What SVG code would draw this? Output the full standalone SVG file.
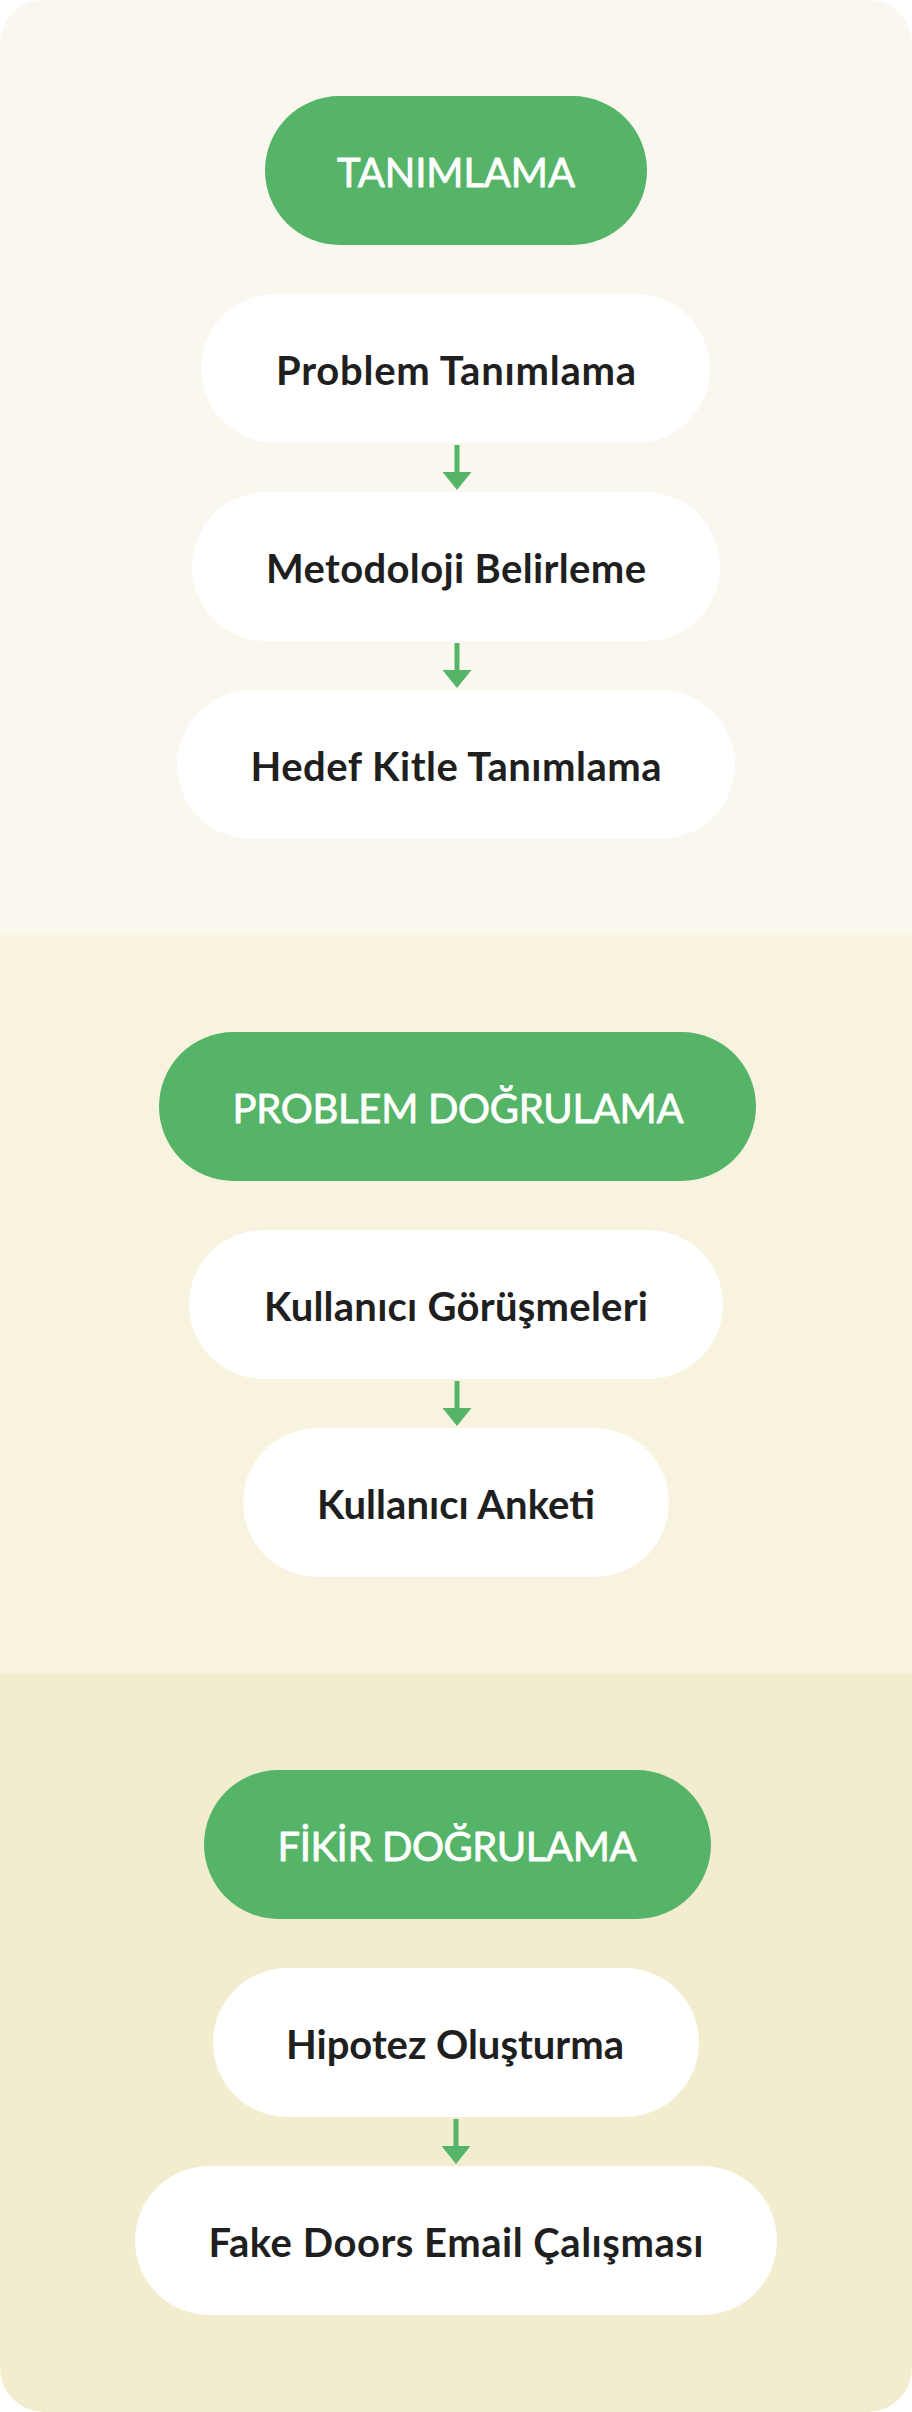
<svg xmlns="http://www.w3.org/2000/svg" width="912" height="2412" viewBox="0 0 912 2412">
  <defs>
    <style>
      .hdr { fill: #55B468; }
      .step { fill: #FFFFFF; }
      .hdr-t { font-family: Lato, "Noto Sans", "Liberation Sans", sans-serif; font-size: 40px; font-weight: 400; fill: #FFFFFF; stroke: #FFFFFF; stroke-width: 0.8px; stroke-linejoin: round; text-anchor: middle; }
      .step-t { font-family: Lato, "Noto Sans", "Liberation Sans", sans-serif; font-size: 40px; font-weight: 700; fill: #1F1F1F; text-anchor: middle; }
      .conn { stroke: #55B468; stroke-width: 5; fill: none; }
      .head { fill: #55B468; }
    </style>
    <clipPath id="card">
      <rect x="0" y="0" width="912" height="2412" rx="44" ry="44"/>
    </clipPath>
  </defs>
  <rect x="0" y="0" width="912" height="2412" fill="#FFFFFF"/>
  <g id="panels" clip-path="url(#card)">
    <rect x="0" y="0" width="912" height="935" fill="#FAF7EF"/>
    <rect x="0" y="935" width="912" height="739" fill="#F8F3DE"/>
    <rect x="0" y="1674" width="912" height="738" fill="#F3EDCF"/>
  </g>

  <g id="connectors">
    <line class="conn" x1="457" y1="445" x2="457" y2="474"/>
    <polygon class="head" points="442.5,472 471.5,472 457,490"/>
    <line class="conn" x1="457" y1="643" x2="457" y2="672"/>
    <polygon class="head" points="442.5,670 471.5,670 457,688"/>
    <line class="conn" x1="457" y1="1381" x2="457" y2="1410"/>
    <polygon class="head" points="442.5,1408 471.5,1408 457,1426"/>
    <line class="conn" x1="456" y1="2119" x2="456" y2="2148"/>
    <polygon class="head" points="441.5,2146 470.5,2146 456,2164"/>
  </g>

  <g id="n-tanimlama">
    <rect class="hdr" x="265" y="96" width="382" height="149" rx="74.5"/>
    <text class="hdr-t" x="456" y="187" textLength="238" lengthAdjust="spacing">TANIMLAMA</text>
  </g>
  <g id="n-problem-tanimlama">
    <rect class="step" x="201" y="294" width="509" height="149" rx="74.5"/>
    <text class="step-t" x="456" y="385" textLength="360" lengthAdjust="spacing">Problem Tanımlama</text>
  </g>
  <g id="n-metodoloji">
    <rect class="step" x="192" y="492" width="528" height="149" rx="74.5"/>
    <text class="step-t" x="456" y="583" textLength="380" lengthAdjust="spacing">Metodoloji Belirleme</text>
  </g>
  <g id="n-hedef-kitle">
    <rect class="step" x="177" y="690" width="558" height="149" rx="74.5"/>
    <text class="step-t" x="456" y="781" textLength="411" lengthAdjust="spacing">Hedef Kitle Tanımlama</text>
  </g>

  <g id="n-problem-dogrulama">
    <rect class="hdr" x="159" y="1032" width="597" height="149" rx="74.5"/>
    <text class="hdr-t" x="458" y="1123" textLength="451" lengthAdjust="spacing">PROBLEM DOĞRULAMA</text>
  </g>
  <g id="n-kullanici-gorusmeleri">
    <rect class="step" x="189" y="1230" width="534" height="149" rx="74.5"/>
    <text class="step-t" x="456" y="1321" textLength="384" lengthAdjust="spacing">Kullanıcı Görüşmeleri</text>
  </g>
  <g id="n-kullanici-anketi">
    <rect class="step" x="243" y="1428" width="426" height="149" rx="74.5"/>
    <text class="step-t" x="456" y="1519" textLength="278" lengthAdjust="spacing">Kullanıcı Anketi</text>
  </g>

  <g id="n-fikir-dogrulama">
    <rect class="hdr" x="204" y="1770" width="507" height="149" rx="74.5"/>
    <text class="hdr-t" x="457" y="1861" textLength="359" lengthAdjust="spacing">FİKİR DOĞRULAMA</text>
  </g>
  <g id="n-hipotez">
    <rect class="step" x="213" y="1968" width="486" height="149" rx="74.5"/>
    <text class="step-t" x="455" y="2059" textLength="338" lengthAdjust="spacing">Hipotez Oluşturma</text>
  </g>
  <g id="n-fake-doors">
    <rect class="step" x="135" y="2166" width="642" height="149" rx="74.5"/>
    <text class="step-t" x="456" y="2257" textLength="495" lengthAdjust="spacing">Fake Doors Email Çalışması</text>
  </g>
</svg>
